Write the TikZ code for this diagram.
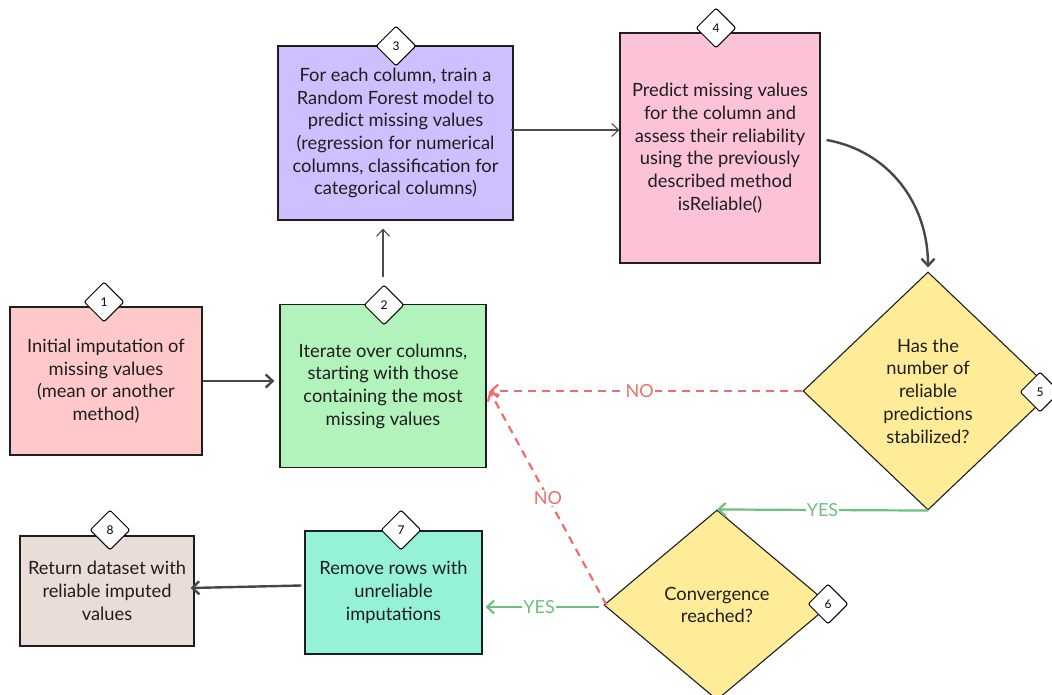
\documentclass[tikz,border=0pt]{standalone}
\usepackage{fontspec}
\setmainfont{Lato}
\usetikzlibrary{shapes.geometric,arrows.meta}
\definecolor{initpink}{HTML}{FFC9C9}
\definecolor{itergreen}{HTML}{B2F2BB}
\definecolor{trainpurple}{HTML}{D0BFFF}
\definecolor{predictpink}{HTML}{FCC2D7}
\definecolor{decisionyellow}{HTML}{FFEC99}
\definecolor{removeteal}{HTML}{96F2D7}
\definecolor{returntaupe}{HTML}{EADDD7}
\definecolor{nored}{HTML}{EE6E6E}
\definecolor{yesgreen}{HTML}{6CC27C}
\definecolor{inkgray}{HTML}{1E1E1E}
\begin{document}
\begin{tikzpicture}[x=1pt, y=-1pt,
    >={Straight Barb[length=7pt,width=13pt]},
    box/.style={draw=inkgray, line width=1.1pt, align=center, inner sep=0pt,
      text=inkgray, font=\fontsize{18.3}{22.7}\selectfont},
    decision/.style={box, diamond, fill=decisionyellow},
    badge/.style={diamond, draw=black, fill=white, line width=1pt, rounded corners=2pt,
      minimum width=40pt, minimum height=40pt, inner sep=0pt, font=\fontsize{12}{12}\selectfont},
    flow/.style={->, line width=2.4pt, draw=black!72},
    thinflow/.style={->, line width=1.1pt, draw=black!70},
    noflow/.style={->, line width=2.2pt, draw=nored, dash pattern=on 8pt off 6pt},
    yesflow/.style={->, line width=2.2pt, draw=yesgreen},
    answer/.style={fill=white, inner sep=1pt, font=\fontsize{18}{20}\selectfont}
  ]
  \useasboundingbox (0,0) rectangle (1052,695);

  \node[box, fill=initpink, minimum width=192pt, minimum height=148pt] (init) at (106,381)
    {Initial imputation of\\missing values\\(mean or another\\method)};
  \node[box, fill=itergreen, minimum width=206pt, minimum height=163pt] (iterate) at (383,386)
    {Iterate over columns,\\starting with those\\containing the most\\missing values};
  \node[box, fill=trainpurple, minimum width=235pt, minimum height=174pt] (train) at (395.5,133)
    {For each column, train a\\Random Forest model to\\predict missing values\\(regression for numerical\\columns, classification for\\categorical columns)};
  \node[box, fill=predictpink, minimum width=200pt, minimum height=230pt] (predict) at (720,148)
    {Predict missing values\\for the column and\\assess their reliability\\using the previously\\described method\\isReliable()};
  \node[decision, minimum width=250pt, minimum height=238pt] (stable) at (928,391)
    {Has the\\number of\\reliable\\predictions\\stabilized?};
  \node[decision, minimum width=226pt, minimum height=190pt] (converge) at (717,605)
    {Convergence\\reached?};
  \node[box, fill=removeteal, minimum width=177pt, minimum height=123pt] (remove) at (393.5,592.5)
    {Remove rows with\\unreliable\\imputations};
  \node[box, fill=returntaupe, minimum width=174pt, minimum height=110pt] (result) at (107,591)
    {Return dataset with\\reliable imputed\\values};

  \foreach \pos/\num in {{(104,302)}/1, {(384,305)}/2, {(396,46)}/3, {(716,28)}/4,
      {(1040,392)}/5, {(828,604)}/6, {(401,530)}/7, {(110,530)}/8}
    \node[badge] (badge\num) at \pos {\num};

  \coordinate (noend) at ([xshift=3pt]stable.west -| iterate.east);

  \draw[flow] (init.east) -- ([xshift=-5pt]init.east -| iterate.west);
  \draw[thinflow, shorten <=27pt, shorten >=8pt] (iterate.north) -- (iterate.north |- train.south);
  \draw[thinflow, shorten <=-3pt] ([yshift=3pt]train.east) -- ([yshift=3pt]train.east -| predict.west);
  \draw[flow] ([xshift=6pt,yshift=8pt]predict.east) to[out=-10, in=90] ([yshift=4pt]stable.north);
  \draw[noflow] (stable.west) -- node[answer, text=nored, pos=0.52] {NO} (noend);
  \draw[noflow] ([xshift=3pt]converge.west) -- node[answer, text=nored] {NO} (noend);
  \draw[yesflow] (stable.south) -- node[answer, text=yesgreen] {YES} (converge.north);
  \draw[yesflow] ([xshift=-4pt,yshift=-2pt]converge.west) -- node[answer, text=yesgreen, pos=0.53] {YES}
    ([xshift=3pt,yshift=-2pt]converge.west -| remove.east);
  \draw[flow] ([xshift=-3pt,yshift=7pt]remove.west) -- ([xshift=-4pt,yshift=3pt]result.east);
\end{tikzpicture}
\end{document}
